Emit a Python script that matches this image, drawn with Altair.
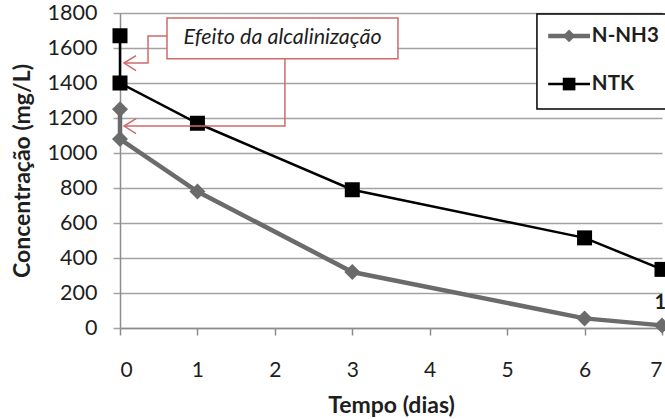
import altair as alt
import pandas as pd

# ---- data ----
dias = [0, 0, 1, 3, 6, 7]
ntk = [1670, 1400, 1170, 790, 515, 335]
nnh3 = [1250, 1080, 780, 320, 55, 15]
x_ticks = [0, 1, 2, 3, 4, 5, 6, 7]
y_ticks = [0, 200, 400, 600, 800, 1000, 1200, 1400, 1600, 1800]

label_text = ["15"]
label_x = [7]
label_y = [15]

annot_text = "Efeito da alcalinização"
annot_box_x = [0.607, 3.59]
annot_box_y = [1539, 1771]
annot_text_pos = [2.10, 1655]
arrow1_x = [0.607, 0.362, 0.362, 0.052]
arrow1_y = [1669, 1669, 1514, 1514]
arrow2_x = [2.13, 2.13, 0.052]
arrow2_y = [1539, 1154, 1154]

legend_box_x = [5.385, 9.5]
legend_box_y = [1251, 1794]
legend_names = ["N-NH3", "NTK"]
legend_y = [1669, 1394]
legend_line_x = [5.53, 6.07]
legend_sym_x = 5.80
legend_text_x = 6.094

FONT = "Lato"
TXT = "#1e1e1e"
GRAY = "#6b6b6b"
RED = "#d06a6a"

W, H = 542, 315

xs = alt.Scale(domain=[0, 7], nice=False, zero=False)
ys = alt.Scale(domain=[0, 1800], nice=False)

x_axis = alt.Axis(values=x_ticks, format="d", labelOverlap=False, grid=False,
                  domainColor="#8c8c8c", domainWidth=1.5,
                  tickColor="#8c8c8c", tickWidth=1.5, tickSize=7,
                  labelFont=FONT, labelFontSize=21, labelColor=TXT, labelPadding=24,
                  title="Tempo (dias)", titleFont=FONT, titleFontSize=23, titleFontWeight="bold",
                  titleColor=TXT, titleX=W / 2, titleY=77, titleAlign="center",
                  titleBaseline="middle")
y_axis = alt.Axis(values=y_ticks, format="d", labelOverlap=False, grid=True,
                  gridColor="#a3a3a3", gridWidth=1.5,
                  domainColor="#8c8c8c", domainWidth=1.5,
                  tickColor="#a3a3a3", tickWidth=1.5, tickSize=7,
                  labelFont=FONT, labelFontSize=21.5, labelColor=TXT, labelPadding=16,
                  title="Concentração (mg/L)", titleFont=FONT, titleFontSize=23,
                  titleFontWeight="bold", titleColor=TXT, titleX=-98, titleY=H / 2,
                  titleAngle=270, titleAlign="center", titleBaseline="middle")

X = alt.X("x:Q", scale=xs, axis=x_axis)
Y = alt.Y("y:Q", scale=ys, axis=y_axis)

rows = []
for i, (d, a, b) in enumerate(zip(dias, ntk, nnh3)):
    rows.append({"x": d, "y": a, "serie": "NTK", "ordem": i})
    rows.append({"x": d, "y": b, "serie": "N-NH3", "ordem": i})
df = pd.DataFrame(rows)

base = alt.Chart(df)
nh3 = base.transform_filter(alt.datum.serie == "N-NH3")
ntkc = base.transform_filter(alt.datum.serie == "NTK")

nh3_line = nh3.mark_line(color=GRAY, strokeWidth=4.5).encode(x=X, y=Y, order="ordem:Q")
nh3_pts = nh3.mark_point(shape="diamond", filled=True, color=GRAY, size=256, opacity=1).encode(x=X, y=Y)
ntk_line = ntkc.mark_line(color="#000000", strokeWidth=2.5).encode(x=X, y=Y, order="ordem:Q")
ntk_pts = ntkc.mark_point(shape="square", filled=True, color="#000000", size=225, opacity=1).encode(x=X, y=Y)

lbl = alt.Chart(pd.DataFrame({"x": label_x, "y": label_y, "t": label_text})).mark_text(
    font=FONT, fontSize=20, fontWeight="bold", color=TXT, dy=-22, dx=4
).encode(x=X, y=Y, text="t:N")

# annotation
box = alt.Chart(pd.DataFrame({"x": [annot_box_x[0]], "x2": [annot_box_x[1]],
                              "y": [annot_box_y[0]], "y2": [annot_box_y[1]]})).mark_rect(
    fill="white", stroke=RED, strokeWidth=1.5).encode(x=X, x2="x2:Q", y=Y, y2="y2:Q")
box_txt = alt.Chart(pd.DataFrame({"x": [annot_text_pos[0]], "y": [annot_text_pos[1]],
                                  "t": [annot_text]})).mark_text(
    font=FONT, fontSize=21.5, fontStyle="italic", color=TXT, baseline="middle"
).encode(x=X, y=Y, text="t:N")

arr_rows = []
for k, (ax, ay) in enumerate(zip(arrow1_x, arrow1_y)):
    arr_rows.append({"x": ax, "y": ay, "p": "a1", "o": k})
for k, (ax, ay) in enumerate(zip(arrow2_x, arrow2_y)):
    arr_rows.append({"x": ax, "y": ay, "p": "a2", "o": k})
arr_df = pd.DataFrame(arr_rows)
arrows = alt.Chart(arr_df).mark_line(color=RED, strokeWidth=1.5).encode(
    x=X, y=Y, detail="p:N", order="o:Q")
heads = alt.Chart(pd.DataFrame({"x": [arrow1_x[-1], arrow2_x[-1]],
                                "y": [arrow1_y[-1], arrow2_y[-1]]})).mark_point(
    shape="M 1.6 -1 L 0 0 L 1.6 1", filled=False, color=RED, strokeWidth=1.5, size=225, opacity=1
).encode(x=X, y=Y)

# legend
leg_box = alt.Chart(pd.DataFrame({"x": [legend_box_x[0]], "x2": [legend_box_x[1]],
                                  "y": [legend_box_y[0]], "y2": [legend_box_y[1]]})).mark_rect(
    fill="white", stroke="#000000", strokeWidth=1.5).encode(x=X, x2="x2:Q", y=Y, y2="y2:Q")
leg_df = pd.DataFrame({"n": legend_names, "y": legend_y,
                       "x": [legend_line_x[0]] * 2, "x2": [legend_line_x[1]] * 2,
                       "xs": [legend_sym_x] * 2, "xt": [legend_text_x] * 2})
leg_l1 = alt.Chart(leg_df).transform_filter(alt.datum.n == "N-NH3").mark_rule(
    color=GRAY, strokeWidth=4.5).encode(x=X, x2="x2:Q", y=Y)
leg_s1 = alt.Chart(leg_df).transform_filter(alt.datum.n == "N-NH3").transform_calculate(
    x="datum.xs").mark_point(
    shape="diamond", filled=True, color=GRAY, size=160, opacity=1).encode(x=X, y=Y)
leg_l2 = alt.Chart(leg_df).transform_filter(alt.datum.n == "NTK").mark_rule(
    color="#000000", strokeWidth=2.5).encode(x=X, x2="x2:Q", y=Y)
leg_s2 = alt.Chart(leg_df).transform_filter(alt.datum.n == "NTK").transform_calculate(
    x="datum.xs").mark_point(
    shape="square", filled=True, color="#000000", size=160, opacity=1).encode(x=X, y=Y)
leg_t = alt.Chart(leg_df).transform_calculate(x="datum.xt").mark_text(
    font=FONT, fontSize=20.5, fontWeight="bold", color=TXT,
    align="left", baseline="middle").encode(x=X, y=Y, text="n:N")

chart = alt.layer(
    nh3_line, ntk_line, nh3_pts, ntk_pts, lbl,
    arrows, box, box_txt, heads,
    leg_box, leg_l1, leg_s1, leg_l2, leg_s2, leg_t,
).properties(
    width=W, height=H,
    autosize=alt.AutoSizeParams(type="none"),
    padding={"left": 120, "top": 13, "right": 3, "bottom": 91},
    background="white",
).configure_view(stroke=None)

chart.save("out.html", embed_options={"renderer": "svg", "actions": False})
